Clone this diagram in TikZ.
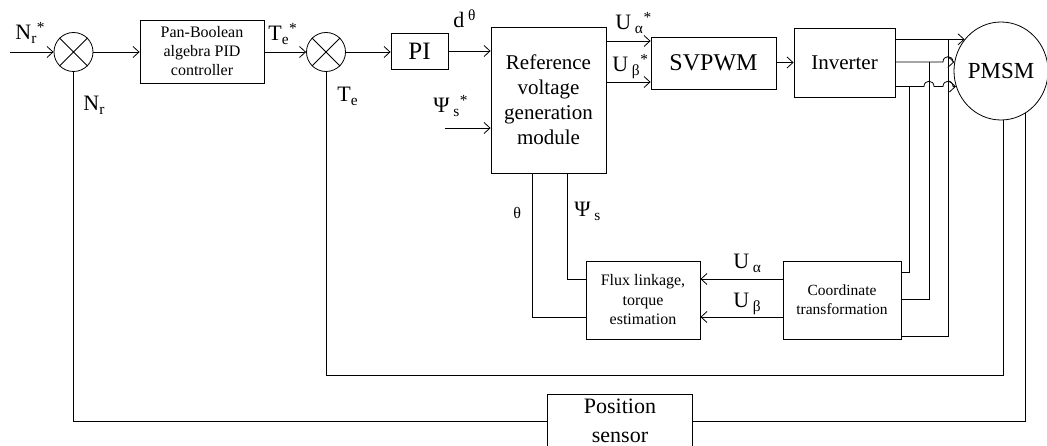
\documentclass[tikz,border=0pt]{standalone}
\usepackage{fontspec}
\setmainfont{Liberation Serif}
\usetikzlibrary{arrows.meta,calc,shapes.geometric}
\newcommand\fsz[2]{\fontsize{#1}{#2}\selectfont}
\begin{document}
\begin{tikzpicture}[x=1pt,y=-1pt, line width=0.8pt,
  >={Straight Barb[length=6pt,width=11pt]},
  box/.style={draw, rectangle, inner sep=0pt, align=center},
  sumnode/.style={draw, circle, minimum size=39pt, inner sep=0pt},
  lbl/.style={anchor=base west, inner sep=0pt, font=\fsz{22}{24}}]
\useasboundingbox (0,0) rectangle (1047,446);

% blocks
\node[sumnode] (s1) at (73.5,52) {};
\node[sumnode] (s2) at (326,52) {};
\draw (s1.45) -- (s1.225) (s1.135) -- (s1.315);
\draw (s2.45) -- (s2.225) (s2.135) -- (s2.315);
\node[box, minimum width=124pt, minimum height=63pt, font=\fsz{16}{19}] (pid) at (202,51.5) {Pan-Boolean\\algebra PID\\controller};
\node[box, minimum width=57pt, minimum height=36pt, font=\fsz{25}{28}] (pi) at (419.5,51) {PI};
\node[box, minimum width=115pt, minimum height=146pt, font=\fsz{21}{25}] (ref) at (548.5,100) {Reference\\voltage\\generation\\module};
\node[box, minimum width=125pt, minimum height=52pt, font=\fsz{24}{28}] (svp) at (713.5,63) {SVPWM};
\node[box, minimum width=101pt, minimum height=69pt, font=\fsz{21}{25}] (inv) at (844.5,62.5) {Inverter};
\node[draw, ellipse, inner sep=0pt, minimum width=90pt, minimum height=98pt, font=\fsz{23}{26}] (pmsm) at (1001,71) {PMSM};
\node[box, minimum width=114pt, minimum height=78pt, font=\fsz{16}{19.5}] (flux) at (643,300) {Flux linkage,\\torque\\estimation};
\node[box, minimum width=118pt, minimum height=78pt, font=\fsz{15.5}{19}] (coord) at (842,300) {Coordinate\\transformation};
\node[box, minimum width=145pt, minimum height=54pt, font=\fsz{22}{29}] (sensor) at (620,421) {Position\\sensor};

% helper coordinates
\coordinate (nin) at (10,52);
\coordinate (psin) at (445,128);
\coordinate (ya) at (0,41);
\coordinate (yb) at (0,82);
\coordinate (v1) at (909,0);
\coordinate (v2) at (929,0);
\coordinate (v3) at (948,0);
\coordinate (c1) at (0,272);
\coordinate (c2) at (0,299);
\coordinate (c3) at (0,336);
\coordinate (ua) at (0,279);
\coordinate (ub) at (0,317);
\coordinate (thx) at (532,0);
\coordinate (psx) at (567,0);
\coordinate (yte) at (0,375);

% forward path
\draw[->] (nin) -- (s1.west);
\draw[->] (s1.east) -- (pid.west |- s1.east);
\draw[->] (pid.east |- s2.west) -- (s2.west);
\draw[->] (s2.east) -- (pi.west |- s2.east);
\draw[->] (pi.east) -- (pi.east -| ref.west);
\draw[->] (psin) -- (psin -| ref.west);
\draw[->] (ref.east |- ya) -- (svp.west |- ya);
\draw[->] (ref.east |- yb) -- (svp.west |- yb);
\draw[->] (svp.east |- inv.west) -- (inv.west);

% inverter to PMSM
\draw[->] (inv.east |- pmsm.139.9) -- (pmsm.139.9);
\draw[->] (inv.east |- pmsm.169.8) -- ($(v3 |- pmsm.169.8)+(-5,0)$)
   .. controls +(0,-7) and +(0,-7) .. ($(v3 |- pmsm.169.8)+(5,0)$) -- (pmsm.169.8);
\draw[->] (inv.east |- pmsm.199.3) -- ($(v2 |- pmsm.199.3)+(-5,0)$)
   .. controls +(0,-7) and +(0,-7) .. ($(v2 |- pmsm.199.3)+(5,0)$)
   -- ($(v3 |- pmsm.199.3)+(-5,0)$)
   .. controls +(0,-7) and +(0,-7) .. ($(v3 |- pmsm.199.3)+(5,0)$) -- (pmsm.199.3);

% measurement lines to coordinate transformation
\draw (coord.east |- c1) -- (v1 |- c1) -- (v1 |- pmsm.199.3);
\draw (coord.east |- c2) -- (v2 |- c2) -- (v2 |- pmsm.169.8);
\draw (coord.east |- c3) -- (v3 |- c3) -- (v3 |- pmsm.139.9);

% coordinate transformation to flux estimation
\draw[->] (coord.west |- ua) -- (flux.east |- ua);
\draw[->] (coord.west |- ub) -- (flux.east |- ub);
\draw (ref.south -| psx) -- (psx |- ua) -- (flux.west |- ua);
\draw (ref.south -| thx) -- (thx |- ub) -- (flux.west |- ub);

% feedback
\draw (pmsm.273.5) -- (pmsm.273.5 |- yte) -- (s2.south |- yte) -- (s2.south);
\draw (pmsm.300) -- (pmsm.300 |- sensor.east) -- (sensor.east);
\draw (sensor.west) -- (s1.south |- sensor.west) -- (s1.south);

% labels
\node[lbl] (lnrs) at (15,40) {N\textsubscript{r}\textsuperscript{*}};
\node[lbl] (lnr) at (83,111) {N\textsubscript{r}};
\node[lbl] (ltes) at (268,41) {T\textsubscript{e}\textsuperscript{*}};
\node[lbl] (lte) at (337,102) {T\textsubscript{e}};
\node[lbl] (ldth) at (453,28) {d\,\textsuperscript{θ}};
\node[lbl] (lpss) at (433,113) {Ψ\,\textsubscript{s}\textsuperscript{*}};
\node[lbl] (luas) at (615,30) {U\,\textsubscript{α}\textsuperscript{*}};
\node[lbl] (lubs) at (612,72) {U\,\textsubscript{β}\textsuperscript{*}};
\node[lbl, font=\fsz{16}{18}] (lth) at (513,219) {θ};
\node[lbl] (lps) at (574,217) {Ψ\,\textsubscript{s}};
\node[lbl] (lua) at (733,269) {U\,\textsubscript{α}};
\node[lbl] (lub) at (733,308) {U\,\textsubscript{β}};
\end{tikzpicture}
\end{document}
